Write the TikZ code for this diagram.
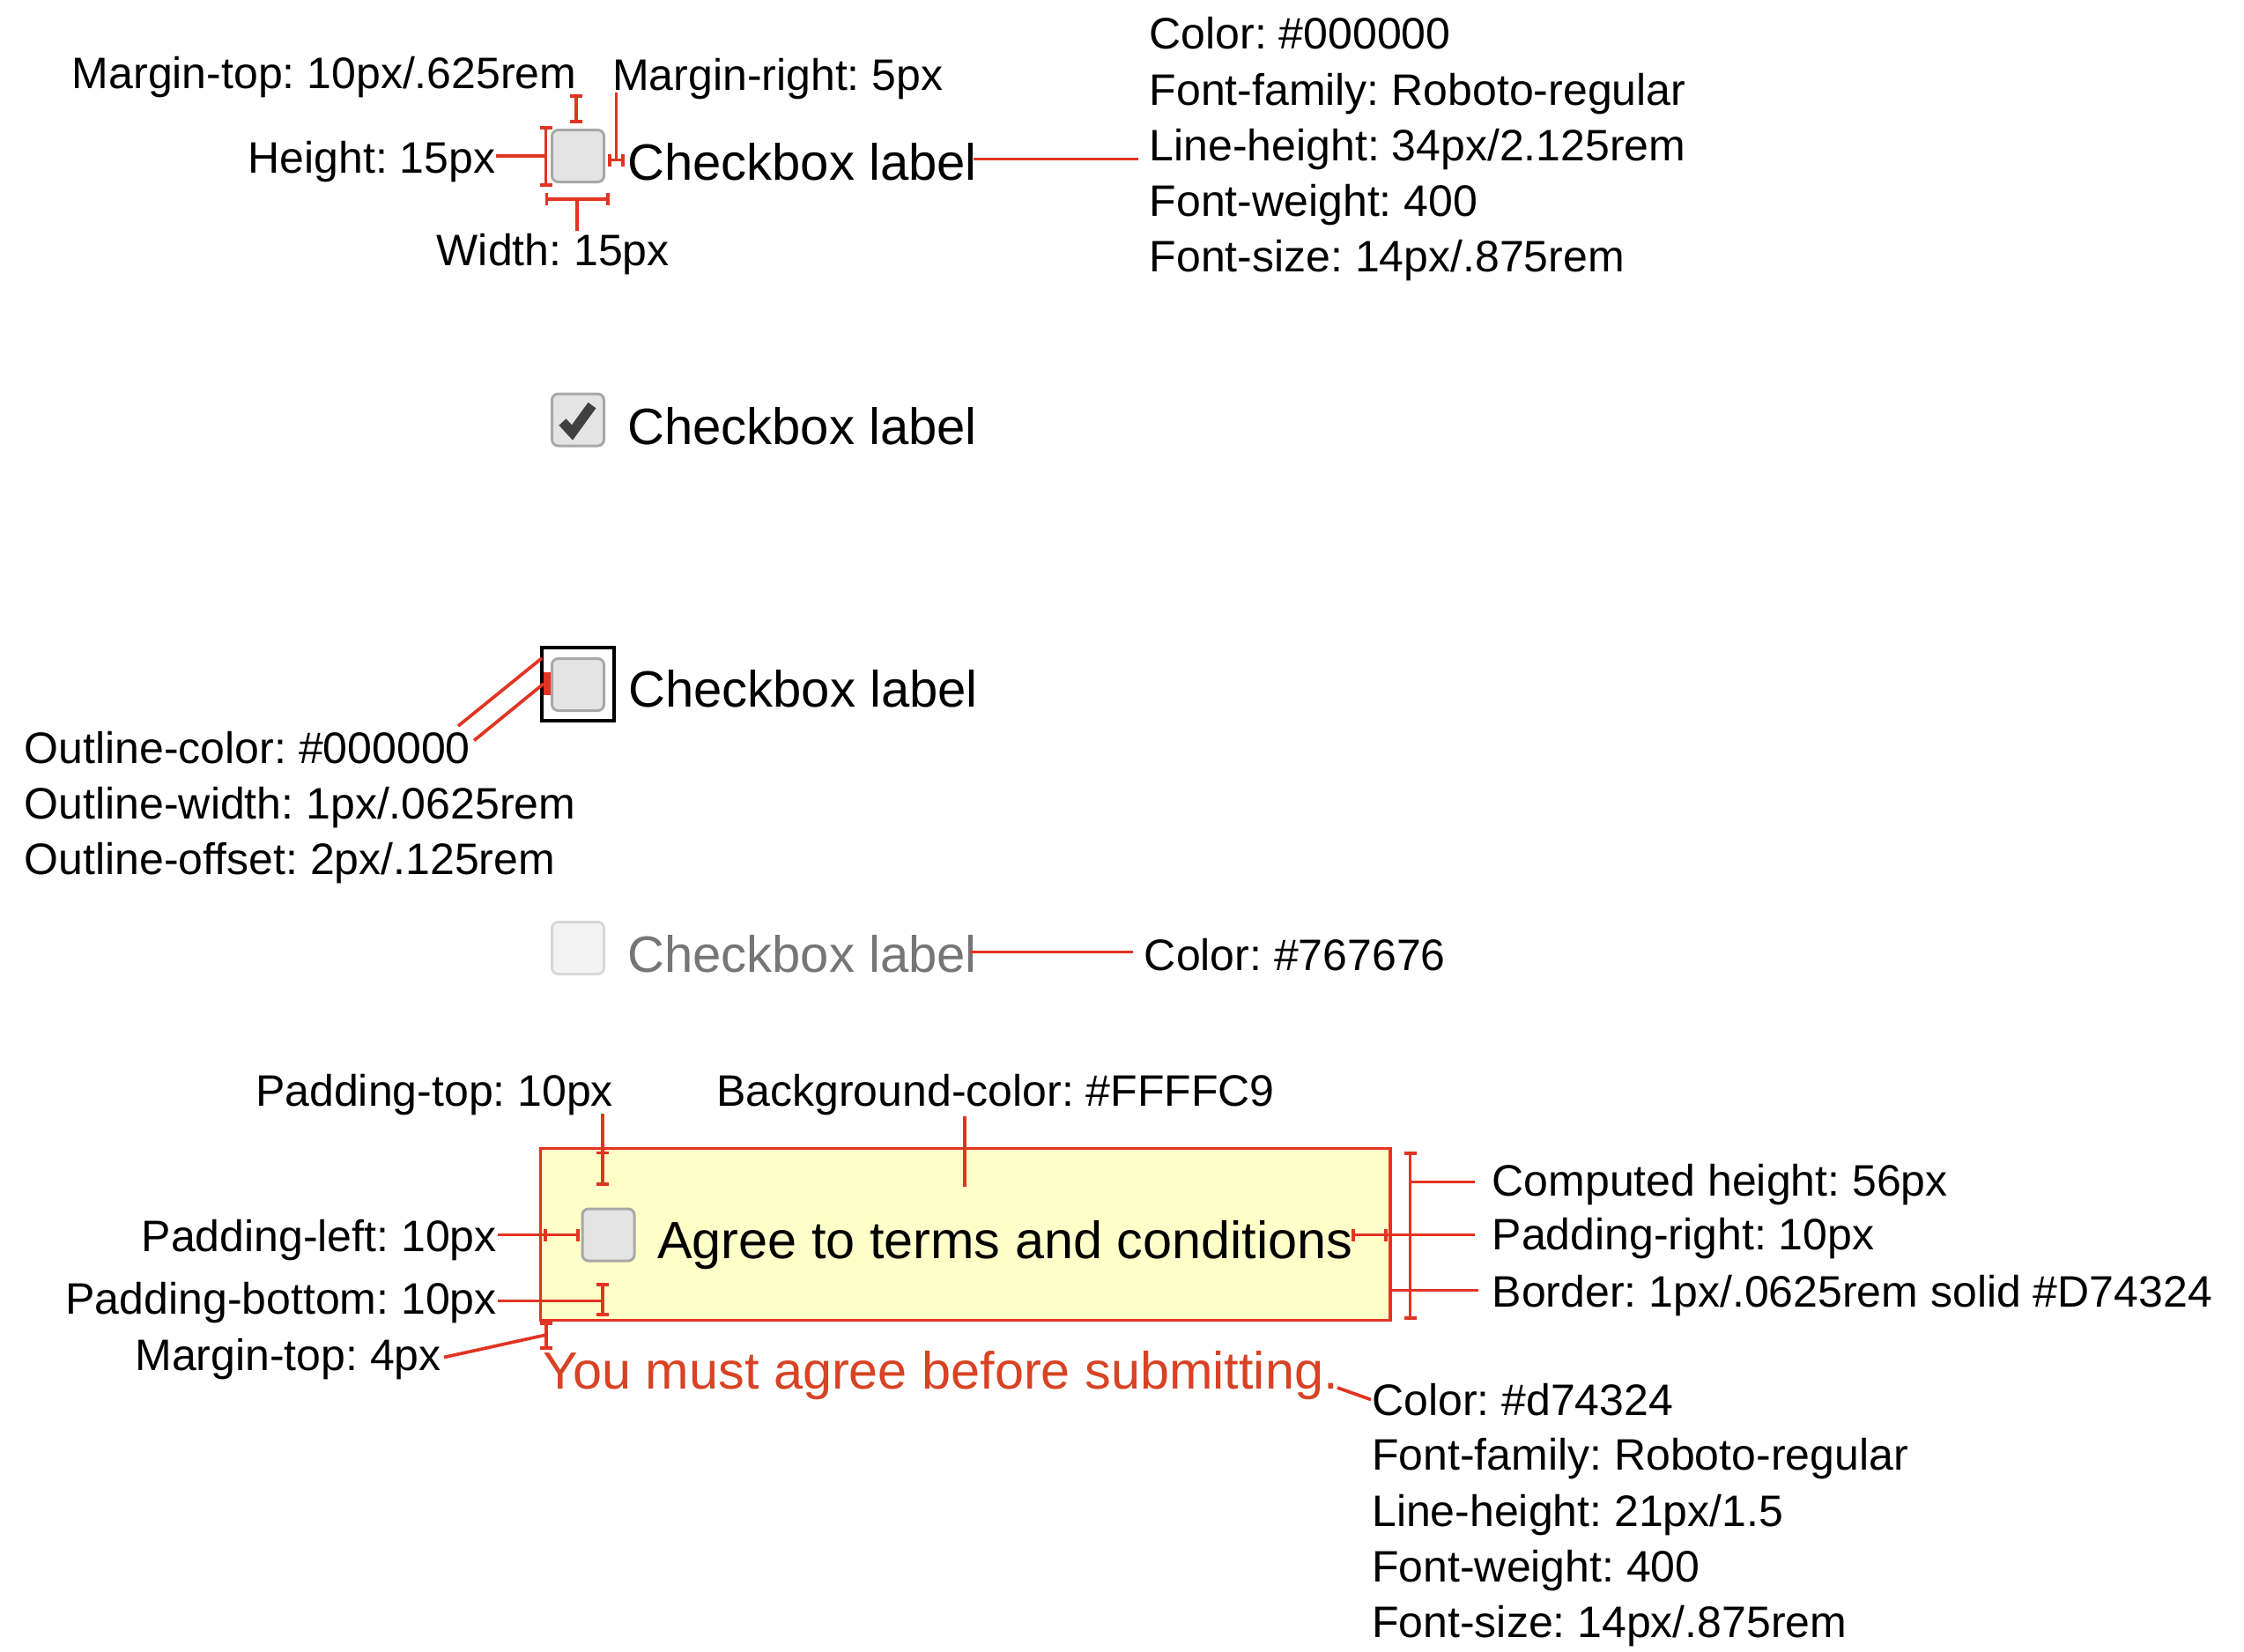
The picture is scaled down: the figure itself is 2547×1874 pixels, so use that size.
\documentclass[tikz,border=0pt]{standalone}
\usepackage{fontspec}
\setmainfont{Liberation Sans}
\usetikzlibrary{arrows.meta}
\frenchspacing
\definecolor{rl}{RGB}{226,52,34}
\definecolor{errred}{HTML}{D74324}
\definecolor{bgy}{HTML}{FFFFC9}
\definecolor{cbfill}{HTML}{E4E4E4}
\definecolor{cbdraw}{HTML}{A8A8A8}
\definecolor{disfill}{HTML}{F3F3F3}
\definecolor{disdraw}{HTML}{D8D8D8}
\definecolor{dis}{HTML}{767676}
\definecolor{chk}{HTML}{404040}
\begin{document}
\begin{tikzpicture}[x=1pt,y=-1pt,
 ann/.style={inner sep=0pt, font=\fontsize{50}{60}\selectfont\frenchspacing, anchor=base west},
 annr/.style={ann, anchor=base east},
 lab/.style={inner sep=0pt, font=\fontsize{58}{70}\selectfont, anchor=base west},
 labw/.style={inner sep=0pt, font=\fontsize{59.4}{70}\selectfont, anchor=base west},
 lead/.style={draw=rl, line width=3.7pt},
 dimb/.style={lead, {Bar[width=14pt]}-{Bar[width=14pt]}},
 cbox/.style={draw=cbdraw, fill=cbfill, line width=3pt, rounded corners=7pt, minimum size=59pt, inner sep=0pt},
 dbox/.style={cbox, draw=disdraw, fill=disfill},
]
\useasboundingbox (0,0) rectangle (2547,1874);

% ---------- row 1 ----------
\node[cbox] (cb1) at (656,177) {};
\node[lab] (l1) at (712,204) {Checkbox label};
\node[ann] (mt) at (81.7,100) {Margin-top: 10px/.625rem};
\node[ann] (mr) at (695,102) {Margin-right: 5px};
\node[annr] (ht) at (562.5,196.7) {Height: 15px};
\node[ann] (wd) at (495.5,301.7) {Width: 15px};
\node[ann] (c1a) at (1304.5,55) {Color: \#000000};
\node[ann] (c1b) at (1304.5,119) {Font-family: Roboto-regular};
\node[ann] (c1c) at (1304.5,182) {Line-height: 34px/2.125rem};
\node[ann] (c1d) at (1304.5,245) {Font-weight: 400};
\node[ann] (c1e) at (1304.5,308) {Font-size: 14px/.875rem};

\coordinate (mtA) at (654,107);
\coordinate (mtB) at (654,140);
\draw[dimb] (mtA) -- (mtB);
\coordinate (htA) at (619.5,143);
\coordinate (htB) at (619.5,212);
\coordinate (htM) at (619.5,177);
\coordinate (htL) at (563,177);
\draw[dimb] (htA) -- (htB);
\draw[lead] (htL) -- (htM);
\coordinate (wdA) at (618.5,226);
\coordinate (wdB) at (691.5,226);
\coordinate (wdM) at (655,226);
\coordinate (wdL) at (655,262);
\draw[dimb] (wdA) -- (wdB);
\draw[lead] (wdM) -- (wdL);
\coordinate (mrA) at (690,181.5);
\coordinate (mrB) at (709,181.5);
\coordinate (mrM) at (699.5,181.5);
\coordinate (mrT) at (699.5,105);
\draw[dimb] (mrA) -- (mrB);
\draw[lead] (mrT) -- (mrM);
\coordinate (l1R) at (1105,180.5);
\coordinate (c1L) at (1292,180.5);
\draw[lead] (l1R) -- (c1L);

% ---------- row 2 ----------
\node[cbox] (cb2) at (656,476.5) {};
\draw[chk, line width=11pt] (638.5,479) -- (649.5,491) -- (672,460);
\node[lab] (l2) at (712,504) {Checkbox label};

% ---------- row 3 ----------
\draw[line width=4pt] (614.5,735) rectangle (696.5,818);
\node[cbox] (cb3) at (656,777) {};
\node[lab] (l3) at (713,802) {Checkbox label};
\fill[rl] (616.5,763) rectangle (625,789);
\node[ann] (o1) at (27.7,866.7) {Outline-color: \#000000};
\node[ann] (o2) at (27.7,929.3) {Outline-width: 1px/.0625rem};
\node[ann] (o3) at (27.7,992.7) {Outline-offset: 2px/.125rem};
\coordinate (o1A) at (520,824);
\coordinate (o1B) at (615,747);
\coordinate (o2A) at (538,840.5);
\coordinate (o2B) at (617,776);
\draw[lead] (o1A) -- (o1B);
\draw[lead] (o2A) -- (o2B);

% ---------- row 4 ----------
\node[dbox] (cb4) at (656,1076) {};
\node[lab, text=dis] (l4) at (712,1103) {Checkbox label};
\node[ann] (c4) at (1298.7,1101) {Color: \#767676};
\coordinate (l4R) at (1101,1080.5);
\coordinate (c4L) at (1286,1080.5);
\draw[lead] (l4R) -- (c4L);

% ---------- row 5 ----------
\draw[draw=rl, fill=bgy, line width=3.2pt] (613.5,1303.5) rectangle (1578,1498.5);
\node[cbox] (cb5) at (690.5,1401.5) {};
\node[labw] (l5) at (746,1428.3) {Agree to terms and conditions};
\node[labw, text=errred] (err) at (616,1576.7) {You must agree before submitting.};

\node[ann] (pt) at (290,1255) {Padding-top: 10px};
\node[ann] (bg) at (813,1255) {Background-color: \#FFFFC9};
\node[annr] (pl) at (564,1420) {Padding-left: 10px};
\node[annr] (pb) at (564,1491.7) {Padding-bottom: 10px};
\node[annr] (m4) at (501,1555) {Margin-top: 4px};
\node[ann] (ch) at (1693.6,1357.3) {Computed height: 56px};
\node[ann] (pr) at (1693.6,1418.3) {Padding-right: 10px};
\node[ann] (bd) at (1693.6,1483.3) {Border: 1px/.0625rem solid \#D74324};

\node[ann] (e1) at (1557,1606.7) {Color: \#d74324};
\node[ann] (e2) at (1557,1668.3) {Font-family: Roboto-regular};
\node[ann] (e3) at (1557,1732.7) {Line-height: 21px/1.5};
\node[ann] (e4) at (1557,1795) {Font-weight: 400};
\node[ann] (e5) at (1557,1858.3) {Font-size: 14px/.875rem};

% padding-top
\coordinate (ptT) at (684,1264);
\coordinate (ptA) at (684,1306.5);
\coordinate (ptB) at (684,1345.5);
\draw[lead] (ptT) -- (ptA);
\draw[dimb] (ptA) -- (ptB);
% background
\coordinate (bgT) at (1095,1267);
\coordinate (bgB) at (1095,1346.5);
\draw[lead] (bgT) -- (bgB);
% padding-left
\coordinate (plL) at (565,1401.5);
\coordinate (plA) at (617,1401.5);
\coordinate (plB) at (658,1401.5);
\draw[lead] (plL) -- (plA);
\draw[dimb] (plA) -- (plB);
% padding-bottom
\coordinate (pbA) at (684,1456);
\coordinate (pbB) at (684,1494);
\coordinate (pbM) at (684,1476.5);
\coordinate (pbL) at (565,1476.5);
\draw[dimb] (pbA) -- (pbB);
\draw[lead] (pbL) -- (pbM);
% margin-top 4px
\coordinate (m4A) at (620,1500);
\coordinate (m4B) at (620,1531.5);
\coordinate (m4M) at (620,1515);
\coordinate (m4L) at (504,1540.5);
\draw[dimb] (m4A) -- (m4B);
\draw[lead] (m4L) -- (m4M);
% padding-right
\coordinate (prA) at (1534,1401.5);
\coordinate (prB) at (1575,1401.5);
\coordinate (prL) at (1674,1401.5);
\draw[dimb] (prA) -- (prB);
\draw[lead] (prB) -- (prL);
% computed height
\coordinate (chA) at (1600.5,1307);
\coordinate (chB) at (1600.5,1498);
\coordinate (chM) at (1600.5,1341.5);
\coordinate (chL) at (1674,1341.5);
\draw[dimb] (chA) -- (chB);
\draw[lead] (chM) -- (chL);
% border
\coordinate (bdA) at (1578,1464.5);
\coordinate (bdL) at (1678,1464.5);
\draw[lead] (bdA) -- (bdL);
% error text colour
\coordinate (erR) at (1518,1575);
\coordinate (erL) at (1556,1588.5);
\draw[lead] (erR) -- (erL);
\end{tikzpicture}
\end{document}
